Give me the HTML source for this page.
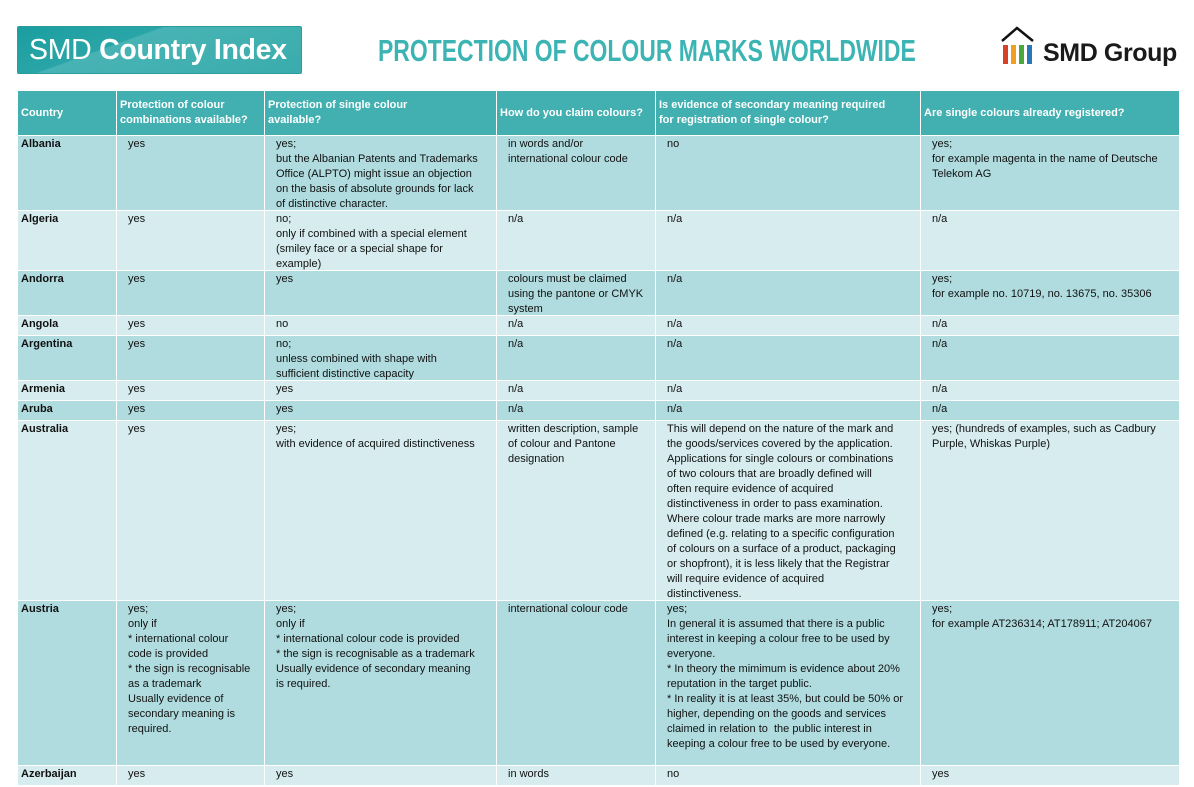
<!DOCTYPE html>
<html><head><meta charset="utf-8">
<style>
body{margin:0;width:1194px;height:787px;background:#fff;position:relative;overflow:hidden;font-family:"Liberation Sans",Arial,sans-serif;}
.logo{position:absolute;left:17px;top:26px;width:285px;height:48px;border-radius:2px;background:linear-gradient(160deg,#1a9ea0 0%,#2aa5a7 35%,#48b3b4 36%,#3aacad 100%);border:1px solid #2a9c9e;box-sizing:border-box;}
.logo span{position:absolute;left:11px;top:7px;color:#fff;font-size:28.5px;white-space:nowrap;letter-spacing:-0.3px}
.title{position:absolute;left:378px;top:33px;white-space:nowrap;color:#3db4b4;font-weight:bold;font-size:31px;transform-origin:0 0;transform:scaleX(0.74);}
.grp{position:absolute;left:1043px;top:39px;font-weight:bold;font-size:25px;color:#1a1a1a;white-space:nowrap;letter-spacing:-0.4px}
table{position:absolute;left:17px;top:90px;border-collapse:collapse;table-layout:fixed;width:1162px;}
td{border:1px solid #fff;vertical-align:top;font-size:11px;line-height:15px;color:#111;white-space:nowrap;padding:0 0 0 11px;}
td>div{height:0;position:relative;top:1px}
td:first-child{padding-left:3px;font-weight:bold}
tr.h td{background:#42b0b1;color:#fff;font-weight:bold;vertical-align:middle;padding:0 0 0 3px;line-height:15px}
tr.d td{background:#b0dcdf}
tr.l td{background:#d6ecee}
</style></head><body>
<div class="logo"><span>SMD <b>Country Index</b></span></div>
<div class="title">PROTECTION OF COLOUR MARKS WORLDWIDE</div>
<svg style="position:absolute;left:1000px;top:26px" width="40" height="40" viewBox="0 0 40 40">
<polyline points="2,15 17,2 33,15" fill="none" stroke="#111" stroke-width="2.5"/>
<rect x="3" y="19" width="5" height="19" fill="#d8402a"/>
<rect x="11" y="19" width="5" height="19" fill="#f0a020"/>
<rect x="19" y="19" width="5" height="19" fill="#4ca83c"/>
<rect x="27" y="19" width="5" height="19" fill="#2a78b8"/>
</svg>
<div class="grp">SMD Group</div>
<table>
<colgroup><col style="width:99px"><col style="width:148px"><col style="width:232px"><col style="width:159px"><col style="width:265px"><col style="width:259px"></colgroup>
<tr class="h" style="height:45px"><td>Country</td><td>Protection of colour<br>combinations available?</td><td>Protection of single colour<br>available?</td><td>How do you claim colours?</td><td>Is evidence of secondary meaning required<br>for registration of single colour?</td><td>Are single colours already registered?</td></tr>
<tr class="d" style="height:75px"><td><div>Albania</div></td><td><div>yes</div></td><td><div>yes;<br>but the Albanian Patents and Trademarks<br>Office (ALPTO) might issue an objection<br>on the basis of absolute grounds for lack<br>of distinctive character.</div></td><td><div>in words and/or<br>international colour code</div></td><td><div>no</div></td><td><div>yes;<br>for example magenta in the name of Deutsche<br>Telekom AG</div></td></tr>
<tr class="l" style="height:60px"><td><div>Algeria</div></td><td><div>yes</div></td><td><div>no;<br>only if combined with a special element<br>(smiley face or a special shape for<br>example)</div></td><td><div>n/a</div></td><td><div>n/a</div></td><td><div>n/a</div></td></tr>
<tr class="d" style="height:45px"><td><div>Andorra</div></td><td><div>yes</div></td><td><div>yes</div></td><td><div>colours must be claimed<br>using the pantone or CMYK<br>system</div></td><td><div>n/a</div></td><td><div>yes;<br>for example no. 10719, no. 13675, no. 35306</div></td></tr>
<tr class="l" style="height:20px"><td><div>Angola</div></td><td><div>yes</div></td><td><div>no</div></td><td><div>n/a</div></td><td><div>n/a</div></td><td><div>n/a</div></td></tr>
<tr class="d" style="height:45px"><td><div>Argentina</div></td><td><div>yes</div></td><td><div>no;<br>unless combined with shape with<br>sufficient distinctive capacity</div></td><td><div>n/a</div></td><td><div>n/a</div></td><td><div>n/a</div></td></tr>
<tr class="l" style="height:20px"><td><div>Armenia</div></td><td><div>yes</div></td><td><div>yes</div></td><td><div>n/a</div></td><td><div>n/a</div></td><td><div>n/a</div></td></tr>
<tr class="d" style="height:20px"><td><div>Aruba</div></td><td><div>yes</div></td><td><div>yes</div></td><td><div>n/a</div></td><td><div>n/a</div></td><td><div>n/a</div></td></tr>
<tr class="l" style="height:180px"><td><div>Australia</div></td><td><div>yes</div></td><td><div>yes;<br>with evidence of acquired distinctiveness</div></td><td><div>written description, sample<br>of colour and Pantone<br>designation</div></td><td><div>This will depend on the nature of the mark and<br>the goods/services covered by the application.<br>Applications for single colours or combinations<br>of two colours that are broadly defined will<br>often require evidence of acquired<br>distinctiveness in order to pass examination.<br>Where colour trade marks are more narrowly<br>defined (e.g. relating to a specific configuration<br>of colours on a surface of a product, packaging<br>or shopfront), it is less likely that the Registrar<br>will require evidence of acquired<br>distinctiveness.</div></td><td><div>yes; (hundreds of examples, such as Cadbury<br>Purple, Whiskas Purple)</div></td></tr>
<tr class="d" style="height:165px"><td><div>Austria</div></td><td><div>yes;<br>only if<br>* international colour<br>code is provided<br>* the sign is recognisable<br>as a trademark<br>Usually evidence of<br>secondary meaning is<br>required.</div></td><td><div>yes;<br>only if<br>* international colour code is provided<br>* the sign is recognisable as a trademark<br>Usually evidence of secondary meaning<br>is required.</div></td><td><div>international colour code</div></td><td><div>yes;<br>In general it is assumed that there is a public<br>interest in keeping a colour free to be used by<br>everyone.<br>* In theory the mimimum is evidence about 20%<br>reputation in the target public.<br>* In reality it is at least 35%, but could be 50% or<br>higher, depending on the goods and services<br>claimed in relation to &nbsp;the public interest in<br>keeping a colour free to be used by everyone.</div></td><td><div>yes;<br>for example AT236314; AT178911; AT204067</div></td></tr>
<tr class="l" style="height:20px"><td><div>Azerbaijan</div></td><td><div>yes</div></td><td><div>yes</div></td><td><div>in words</div></td><td><div>no</div></td><td><div>yes</div></td></tr>
</table>
</body></html>
